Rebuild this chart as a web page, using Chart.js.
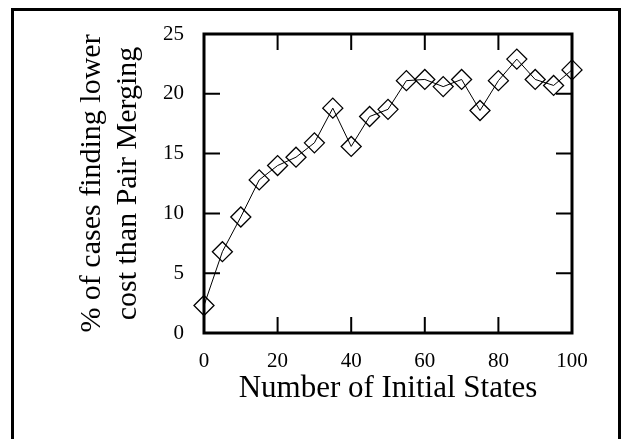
<!DOCTYPE html>
<html>
<head>
<meta charset="utf-8">
<script src="https://cdn.jsdelivr.net/npm/chart.js@4.4.1/dist/chart.umd.min.js"></script>
<style>
  html, body { margin: 0; padding: 0; background: #fff; }
  canvas { display: block; }
</style>
</head>
<body>
<canvas id="chart" width="628" height="439"></canvas>
<script>
// Values
const initialStates = [0, 5, 10, 15, 20, 25, 30, 35, 40, 45, 50, 55, 60, 65, 70, 75, 80, 85, 90, 95, 100];
const pctLowerCost = [2.3, 6.8, 9.7, 12.8, 14.0, 14.7, 15.9, 18.8, 15.6, 18.1, 18.7, 21.1, 21.2, 20.6, 21.2, 18.6, 21.1, 22.9, 21.2, 20.7, 22.0];
const xTickValues = [0, 20, 40, 60, 80, 100];
const yTickValues = [0, 5, 10, 15, 20, 25];
const xTitle = 'Number of Initial States';
const yTitle = ['% of cases finding lower', 'cost than Pair Merging'];

const serif = '"Liberation Serif", "DejaVu Serif", serif';

// Outer frame around the figure
const outerFrame = {
  id: 'outerFrame',
  beforeDraw(chart) {
    const ctx = chart.ctx;
    ctx.save();
    ctx.strokeStyle = '#000';
    ctx.lineWidth = 3;
    ctx.strokeRect(12.5, 9.5, 607, 500);
    ctx.restore();
  }
};

// Boxed axes with inward ticks on all four sides
const boxAxes = {
  id: 'boxAxes',
  beforeDatasetsDraw(chart) {
    const { ctx, chartArea: a, scales } = chart;
    const len = 16;
    ctx.save();
    ctx.strokeStyle = '#000';
    ctx.lineWidth = 2;
    ctx.beginPath();
    scales.x.ticks.forEach(t => {
      const px = scales.x.getPixelForValue(t.value);
      ctx.moveTo(px, a.bottom); ctx.lineTo(px, a.bottom - len);
      ctx.moveTo(px, a.top); ctx.lineTo(px, a.top + len);
    });
    scales.y.ticks.forEach(t => {
      const py = scales.y.getPixelForValue(t.value);
      ctx.moveTo(a.left, py); ctx.lineTo(a.left + len, py);
      ctx.moveTo(a.right, py); ctx.lineTo(a.right - len, py);
    });
    ctx.stroke();
    ctx.lineWidth = 3;
    ctx.strokeRect(a.left, a.top, a.right - a.left, a.bottom - a.top);
    ctx.restore();
  }
};

new Chart(document.getElementById('chart'), {
  type: 'line',
  data: {
    datasets: [{
      data: initialStates.map((x, i) => ({ x, y: pctLowerCost[i] })),
      borderColor: '#000',
      borderWidth: 1,
      pointStyle: 'rectRot',
      pointRadius: 10,
      pointBorderWidth: 1.3,
      pointBorderColor: '#000',
      pointBackgroundColor: 'rgba(0,0,0,0)',
      tension: 0,
      clip: false
    }]
  },
  options: {
    responsive: false,
    animation: false,
    devicePixelRatio: 1,
    layout: { padding: { left: 0, top: 34, right: 56, bottom: 0 } },
    plugins: { legend: { display: false }, tooltip: { enabled: false } },
    scales: {
      x: {
        type: 'linear',
        min: 0,
        max: 100,
        afterBuildTicks: s => { s.ticks = xTickValues.map(v => ({ value: v })); },
        afterFit: s => { s.height = 106; },
        grid: { display: false, drawTicks: false },
        border: { display: false },
        ticks: { padding: 16, color: '#000', font: { family: serif, size: 21 } },
        title: {
          display: true,
          text: xTitle,
          color: '#000',
          font: { family: serif, size: 31 },
          padding: { top: 0, bottom: 32 }
        }
      },
      y: {
        type: 'linear',
        min: 0,
        max: 25,
        afterBuildTicks: s => { s.ticks = yTickValues.map(v => ({ value: v })); },
        afterFit: s => { s.width = 204; },
        grid: { display: false, drawTicks: false },
        border: { display: false },
        ticks: { padding: 20, color: '#000', font: { family: serif, size: 21 } },
        title: {
          display: true,
          text: yTitle,
          color: '#000',
          font: { family: serif, size: 30 },
          padding: { top: 74, bottom: 0 }
        }
      }
    }
  },
  plugins: [outerFrame, boxAxes]
});
</script>
</body>
</html>
